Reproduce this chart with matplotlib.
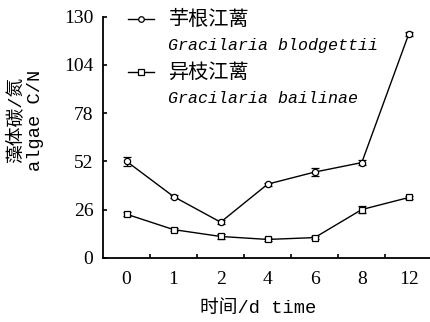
import matplotlib
matplotlib.use("Agg")
import matplotlib.pyplot as plt
from matplotlib.lines import Line2D
from matplotlib.ticker import FixedLocator

# 取样时间 (d) 与两种江蓠的藻体 C/N
days = ["0", "1", "2", "4", "6", "8", "12"]
blodgettii = [52.1, 33.1, 19.3, 39.8, 46.3, 51.4, 120.8]
blodgettii_err = [2.5, 1.0, 1.0, 0.8, 2.3, 1.5, 1.0]
bailinae = [23.6, 15.3, 11.6, 10.0, 11.0, 26.1, 32.6]
bailinae_err = [1.0, 1.0, 1.2, 1.0, 1.0, 2.0, 1.0]
yticks = [0, 26, 52, 78, 104, 130]

mixed = ["Liberation Mono", "Noto Sans CJK SC"]

fig = plt.figure(figsize=(4.3, 3.22), dpi=100)
ax = fig.add_axes([103 / 430, 1 - 258 / 322, 1 - 103 / 430, (258 - 16.7) / 322])

x = list(range(len(days)))
common = dict(color="black", lw=1.0, capsize=3, elinewidth=1.0, capthick=1.0,
              mfc="white", mec="black", mew=0.9)
ax.errorbar(x, blodgettii, yerr=blodgettii_err, marker="o", ms=4.5, **common)
ax.errorbar(x, bailinae, yerr=bailinae_err, marker="s", ms=4.5, **common)

ax.set_xlim(-0.5, 6.45)
ax.set_ylim(0, 130)
ax.set_xticks(x)
ax.set_xticklabels(days)
ax.xaxis.set_minor_locator(FixedLocator([i + 0.5 for i in range(6)]))
ax.tick_params(axis="x", which="major", length=0, pad=9)
ax.tick_params(axis="x", which="minor", direction="in", length=3, width=1.2)
ax.set_yticks(yticks)
ax.tick_params(axis="y", direction="in", length=3, width=1.2, pad=7)
for lab in ax.get_xticklabels() + ax.get_yticklabels():
    lab.set_family("Liberation Serif")
    lab.set_fontsize(14)

for side in ("top", "right"):
    ax.spines[side].set_visible(False)
for side in ("left", "bottom"):
    ax.spines[side].set_linewidth(1.3)

# 图例：中文名一行，拉丁学名斜体另起一行
h1 = Line2D([], [], color="black", lw=1.0, marker="o", ms=4, mfc="white", mew=0.9)
h2 = Line2D([], [], color="black", lw=1.0, marker="s", ms=4, mfc="white", mew=0.9)
blank = Line2D([], [], color="none")
leg = ax.legend([h1, blank, h2, blank],
                ["芋根江蓠", "Gracilaria blodgettii", "异枝江蓠", "Gracilaria bailinae"],
                loc="upper left", bbox_to_anchor=(0.055, 1.06), frameon=False,
                fontsize=12, handlelength=1.6, handletextpad=0.85,
                labelspacing=0.5, borderaxespad=0)
for i, t in enumerate(leg.get_texts()):
    if i % 2 == 0:
        t.set_family(["Noto Sans CJK SC"])
        t.set_fontsize(14.5)
    else:
        t.set_family(["Liberation Mono"])
        t.set_fontstyle("italic")
        t.set_fontsize(12)

fig.text(258 / 430, 1 - 308 / 322, "时间/d time", family=mixed, fontsize=13.5,
         ha="center", va="center")
fig.text(26 / 430, 1 - 120 / 322, "藻体碳/氮\nalgae C/N", family=mixed, fontsize=13.5,
         ha="center", va="center", rotation=90, linespacing=1.12, multialignment="center")

fig.savefig("out.png", dpi=100)
